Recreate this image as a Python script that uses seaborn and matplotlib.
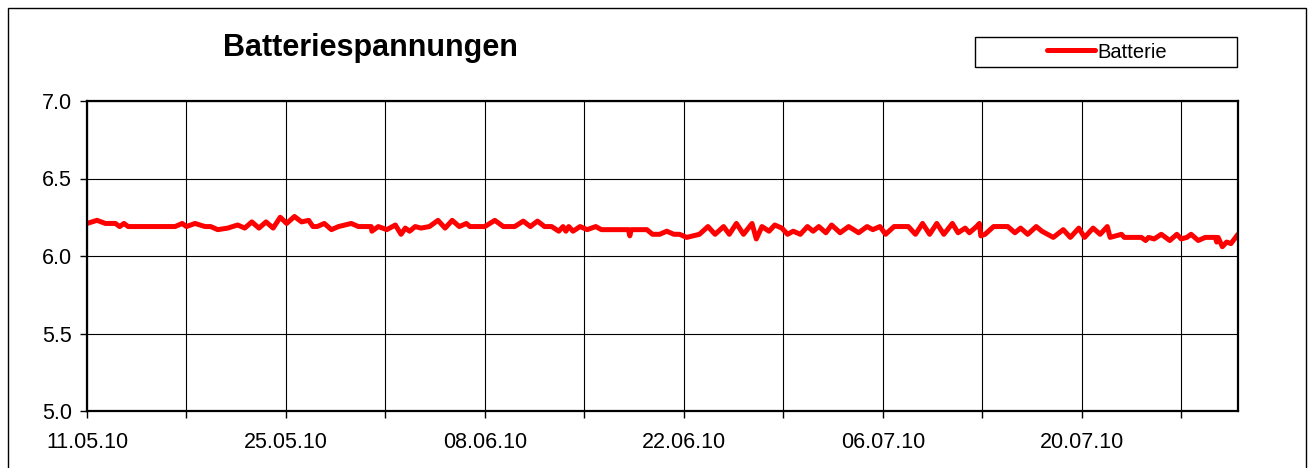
import numpy as np
import pandas as pd
import matplotlib
matplotlib.use("Agg")
import matplotlib.pyplot as plt
import matplotlib.dates as mdates
from matplotlib.patches import Rectangle
from matplotlib.ticker import FixedLocator
import seaborn as sns

# readings: days after 11.05.10 and battery voltage (V)
start = "2010-05-11"
days = [0.0, 0.7, 1.3, 2.0, 2.3, 2.6, 2.9, 3.5, 4.5, 5.5, 6.2, 6.7, 7.0, 7.6, 8.3, 8.7,
        9.2, 9.9, 10.6, 11.1, 11.6, 12.1, 12.6, 13.1, 13.6, 14.05, 14.6, 15.1, 15.6, 15.9,
        16.2, 16.7, 17.2, 17.7, 18.6, 19.1, 20.0, 20.05, 20.5, 21.1, 21.7, 22.1, 22.4, 22.7,
        23.1, 23.5, 24.1, 24.7, 25.2, 25.7, 26.2, 26.7, 26.95, 28.0, 28.7, 29.3, 30.1, 30.7,
        31.2, 31.7, 32.2, 32.7, 33.2, 33.5, 33.7, 33.9, 34.2, 34.7, 35.2, 35.8, 36.2, 37.0,
        38.1, 38.2, 38.3, 39.4, 39.8, 40.3, 40.8, 41.3, 41.7, 42.2, 43.1, 43.7, 44.2, 44.8,
        45.2, 45.7, 46.2, 46.8, 47.1, 47.5, 48.0, 48.4, 48.9, 49.3, 49.7, 50.2, 50.7, 51.1,
        51.5, 52.0, 52.4, 53.0, 53.6, 54.3, 54.9, 55.3, 55.8, 56.2, 56.8, 57.8, 58.3, 58.8,
        59.3, 59.8, 60.3, 60.9, 61.3, 61.8, 62.1, 62.6, 62.8, 62.9, 63.2, 63.8, 64.8, 65.3,
        65.7, 66.2, 66.8, 67.2, 68.0, 68.7, 69.2, 69.8, 70.2, 70.8, 71.3, 71.8, 72.0, 72.8,
        73.0, 74.2, 74.5, 74.7, 75.1, 75.6, 76.2, 76.7, 77.0, 77.4, 77.7, 78.2, 78.7, 79.4,
        79.5, 79.6, 79.9, 80.2, 80.5, 81.0]
volts = [6.21, 6.23, 6.21, 6.21, 6.19, 6.21, 6.19, 6.19, 6.19, 6.19, 6.19, 6.21, 6.19, 6.21, 6.19, 6.19,
         6.17, 6.18, 6.20, 6.18, 6.22, 6.18, 6.22, 6.18, 6.25, 6.21, 6.255, 6.22, 6.23, 6.19,
         6.19, 6.21, 6.17, 6.19, 6.21, 6.19, 6.19, 6.16, 6.19, 6.17, 6.20, 6.14, 6.18, 6.16,
         6.19, 6.18, 6.19, 6.23, 6.18, 6.23, 6.19, 6.21, 6.19, 6.19, 6.23, 6.19, 6.19, 6.225,
         6.19, 6.225, 6.19, 6.19, 6.16, 6.19, 6.16, 6.19, 6.16, 6.19, 6.17, 6.19, 6.17, 6.17,
         6.17, 6.13, 6.17, 6.17, 6.14, 6.14, 6.16, 6.14, 6.14, 6.12, 6.14, 6.19, 6.14, 6.19,
         6.14, 6.21, 6.14, 6.21, 6.11, 6.19, 6.16, 6.20, 6.18, 6.14, 6.16, 6.14, 6.19, 6.16,
         6.19, 6.15, 6.20, 6.15, 6.19, 6.15, 6.19, 6.17, 6.19, 6.14, 6.19, 6.19, 6.14, 6.21,
         6.14, 6.21, 6.14, 6.21, 6.15, 6.18, 6.15, 6.19, 6.21, 6.13, 6.14, 6.19, 6.19, 6.15,
         6.18, 6.14, 6.19, 6.16, 6.12, 6.17, 6.12, 6.18, 6.12, 6.18, 6.14, 6.19, 6.12, 6.14,
         6.12, 6.12, 6.10, 6.12, 6.11, 6.14, 6.10, 6.14, 6.11, 6.12, 6.14, 6.10, 6.12, 6.12,
         6.09, 6.12, 6.06, 6.09, 6.08, 6.14]
y_ticks = [5.0, 5.5, 6.0, 6.5, 7.0]

sns.set_style("white")
plt.rcParams["font.family"] = ["Liberation Sans", "DejaVu Sans"]
plt.rcParams["text.color"] = "black"
plt.rcParams["xtick.color"] = "black"
plt.rcParams["ytick.color"] = "black"

df = pd.DataFrame({
    "zeit": pd.Timestamp(start) + pd.to_timedelta(days, unit="D"),
    "Batterie": volts,
})

fig = plt.figure(figsize=(13.15, 4.68), dpi=100)
ax = fig.add_axes([87 / 1315, 57 / 468, (1238 - 87) / 1315, (411 - 101) / 468])

sns.lineplot(data=df, x="zeit", y="Batterie", color="#ff0000", lw=3.6, ax=ax,
             label="Batterie", legend=False)

x0 = pd.Timestamp(start)
ax.set_xlim(x0, x0 + pd.Timedelta(days=81))
ax.set_ylim(5.0, 7.0)
ax.set_yticks(y_ticks)
ax.set_yticklabels([f"{v:.1f}" for v in y_ticks])

weeks = pd.date_range(start, periods=12, freq="7D")
ax.xaxis.set_major_locator(FixedLocator(mdates.date2num(weeks[::2])))
ax.xaxis.set_minor_locator(FixedLocator(mdates.date2num(weeks[1::2])))
ax.xaxis.set_major_formatter(mdates.DateFormatter("%d.%m.%y"))
ax.set_xlabel("")
ax.set_ylabel("")

ax.grid(True, which="both", axis="x", color="black", lw=0.8)
ax.grid(True, which="major", axis="y", color="black", lw=0.8)
ax.tick_params(axis="both", which="both", direction="out", length=5, width=1,
               color="black", labelsize=15.5, pad=6, bottom=True, left=True)
ax.tick_params(axis="x", pad=10)
for s in ax.spines.values():
    s.set_color("black")
    s.set_linewidth(1.6)

fig.text(370 / 1315, 1 - 48 / 468, "Batteriespannungen", ha="center", va="center",
         fontsize=22, fontweight="bold", color="black")

# legend box
fig.patches.append(Rectangle((975 / 1315, 1 - 67 / 468), 262 / 1315, 30 / 468,
                             transform=fig.transFigure, fill=False, ec="black", lw=1))
h, l = ax.get_legend_handles_labels()
fig.legend(h, l, loc="center", bbox_to_anchor=(1107 / 1315, 1 - 52 / 468), frameon=False,
           fontsize=14.5, handlelength=2.4, handletextpad=0.1, borderpad=0)

# outer frame
fig.patches.append(Rectangle((8 / 1315, -0.05), (1306 - 8) / 1315, 1.05 - 8 / 468,
                             transform=fig.transFigure, fill=False, ec="black", lw=1))

fig.savefig("out.png", dpi=100, facecolor="white")
